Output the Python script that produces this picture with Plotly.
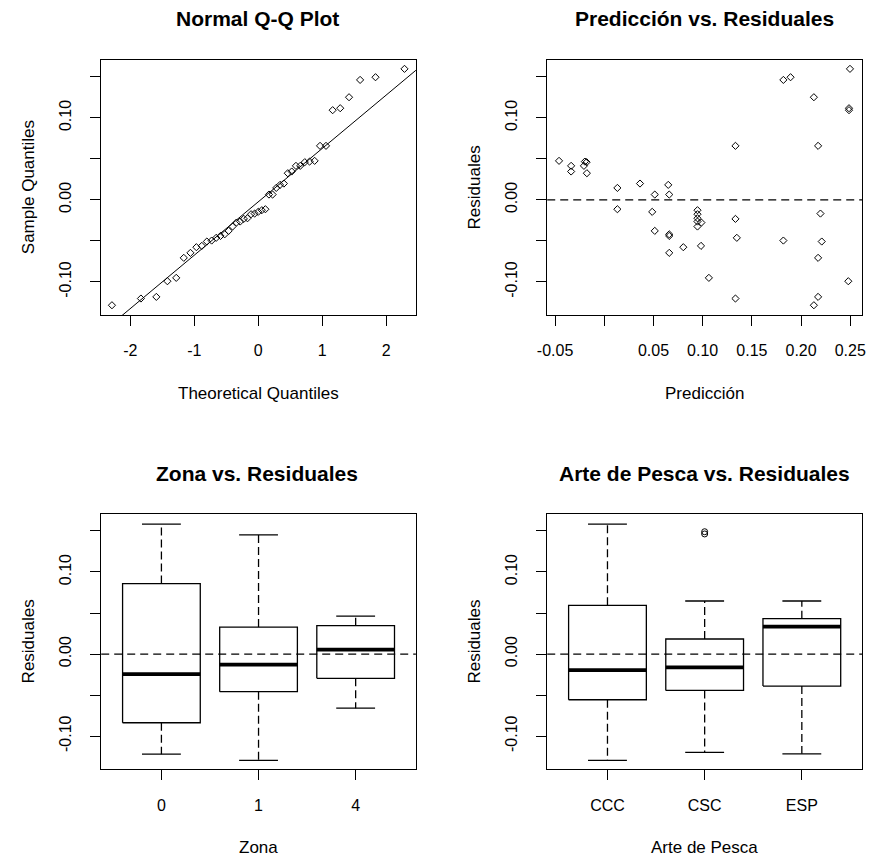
import numpy as np
import plotly.graph_objects as go

# ---------------- data ----------------
PREDICCION = [-0.046, -0.0337, -0.0337, -0.0197, -0.018, -0.0207, -0.0177, 0.0133, 0.0133,
              0.0363, 0.0513, 0.0487, 0.0513, 0.065, 0.066, 0.066, 0.066, 0.066, 0.0803,
              0.0947, 0.0947, 0.0947, 0.0947, 0.0947, 0.0987, 0.0983, 0.1063, 0.1333, 0.1333,
              0.1347, 0.1333, 0.182, 0.1893, 0.182, 0.213, 0.2173, 0.2197, 0.221, 0.2173,
              0.2173, 0.213, 0.2497, 0.2487, 0.2487, 0.248]
RESIDUALES = [0.0476, 0.0415, 0.0346, 0.0467, 0.046, 0.0415, 0.0325, 0.0146, -0.0114,
              0.0199, 0.0065, -0.0146, -0.0378, 0.0183, 0.0065, -0.042, -0.044, -0.0646, -0.0577,
              -0.0126, -0.0175, -0.0224, -0.0264, -0.0325, -0.0277, -0.0561, -0.0951, 0.0659, -0.0232,
              -0.0463, -0.1203, 0.1463, 0.1496, -0.0496, 0.1252, 0.0659, -0.0167, -0.0508, -0.0707,
              -0.1183, -0.1285, 0.1598, 0.1118, 0.1094, -0.0992]
CUANTILES_TEORICOS = [-2.287, -1.834, -1.593, -1.420, -1.282, -1.164, -1.060, -0.967, -0.882,
                      -0.803, -0.728, -0.657, -0.590, -0.524, -0.462, -0.401, -0.341, -0.282,
                      -0.225, -0.168, -0.112, -0.056, 0.000, 0.056, 0.112, 0.168, 0.225, 0.282,
                      0.341, 0.401, 0.462, 0.524, 0.590, 0.657, 0.728, 0.803, 0.882, 0.967,
                      1.060, 1.164, 1.282, 1.420, 1.593, 1.834, 2.287]
Z_QUARTIL_NORMAL = 0.6745

ZONA_CATS = ["0", "1", "4"]
ZONA_LOW = [-0.122, -0.1296, -0.0659]
ZONA_Q1 = [-0.0837, -0.0459, -0.0296]
ZONA_MED = [-0.0244, -0.0130, 0.0053]
ZONA_Q3 = [0.0858, 0.0329, 0.0346]
ZONA_HIGH = [0.1582, 0.1451, 0.0463]

ARTE_CATS = ["CCC", "CSC", "ESP"]
ARTE_LOW = [-0.1296, -0.1199, -0.1215]
ARTE_Q1 = [-0.0557, -0.0443, -0.039]
ARTE_MED = [-0.0195, -0.0162, 0.0334]
ARTE_Q3 = [0.0594, 0.0183, 0.0431]
ARTE_HIGH = [0.1582, 0.0646, 0.0646]
ARTE_OUT_CAT = ["CSC", "CSC"]
ARTE_OUT_VAL = [0.1463, 0.1490]

Y_TICKS = [-0.10, -0.05, 0.00, 0.05, 0.10, 0.15]
Y_TICKTEXT = ["-0.10", "", "0.00", "", "0.10", ""]
QQ_TICKS = [-2, -1, 0, 1, 2]
QQ_TICKTEXT = ["-2", "-1", "0", "1", "2"]
PRED_TICKS = [-0.05, 0.00, 0.05, 0.10, 0.15, 0.20, 0.25]
PRED_TICKTEXT = ["-0.05", "", "0.05", "0.10", "0.15", "0.20", "0.25"]
LINEA_CERO = 0.0

# ---------------- figure ----------------
W, H = 871, 858
FONT = "Liberation Sans, Arial, sans-serif"
fig = go.Figure()

# QQ plot
muestra = sorted(RESIDUALES)
fig.add_trace(go.Scatter(x=CUANTILES_TEORICOS, y=muestra, mode="markers",
                         marker=dict(symbol="diamond-open", size=5.5, color="black",
                                     line=dict(width=1, color="black")),
                         xaxis="x", yaxis="y", showlegend=False))
q1s, q3s = np.quantile(muestra, [0.25, 0.75])
pend = (q3s - q1s) / (2 * Z_QUARTIL_NORMAL)
inter = q1s + Z_QUARTIL_NORMAL * pend
xl = np.array([-3.0, 3.0])
fig.add_trace(go.Scatter(x=xl, y=inter + pend * xl, mode="lines",
                         line=dict(color="black", width=1), xaxis="x", yaxis="y",
                         showlegend=False))

# Predicción vs residuales
fig.add_trace(go.Scatter(x=PREDICCION, y=RESIDUALES, mode="markers",
                         marker=dict(symbol="diamond-open", size=5.5, color="black",
                                     line=dict(width=1, color="black")),
                         xaxis="x2", yaxis="y2", showlegend=False))


def add_boxes(lo, q1, med, q3, hi, xa, ya):
    bx, by, mx, my, wx, wy, cx, cy = [], [], [], [], [], [], [], []
    for i in range(len(med)):
        p = i + 1
        bx += [p - 0.4, p + 0.4, p + 0.4, p - 0.4, p - 0.4, None]
        by += [q1[i], q1[i], q3[i], q3[i], q1[i], None]
        mx += [p - 0.4, p + 0.4, None]
        my += [med[i], med[i], None]
        wx += [p, p, None, p, p, None]
        wy += [q3[i], hi[i], None, q1[i], lo[i], None]
        cx += [p - 0.2, p + 0.2, None, p - 0.2, p + 0.2, None]
        cy += [hi[i], hi[i], None, lo[i], lo[i], None]
    common = dict(xaxis=xa, yaxis=ya, showlegend=False, mode="lines")
    fig.add_trace(go.Scatter(x=wx, y=wy, line=dict(color="black", width=1.3, dash="8px,4px"), **common))
    fig.add_trace(go.Scatter(x=cx, y=cy, line=dict(color="black", width=1.3), **common))
    fig.add_trace(go.Scatter(x=bx, y=by, line=dict(color="black", width=1.3), **common))
    fig.add_trace(go.Scatter(x=mx, y=my, line=dict(color="black", width=3.8), **common))


add_boxes(ZONA_LOW, ZONA_Q1, ZONA_MED, ZONA_Q3, ZONA_HIGH, "x3", "y3")
add_boxes(ARTE_LOW, ARTE_Q1, ARTE_MED, ARTE_Q3, ARTE_HIGH, "x4", "y4")
fig.add_trace(go.Scatter(x=[ARTE_CATS.index(c) + 1 for c in ARTE_OUT_CAT], y=ARTE_OUT_VAL,
                         mode="markers",
                         marker=dict(symbol="circle-open", size=6, color="black",
                                     line=dict(width=1, color="black")),
                         xaxis="x4", yaxis="y4", showlegend=False))

# ---------------- layout ----------------
def px_x(v):
    return v / W


def px_y(v):
    return 1 - v / H


XL = [px_x(92.7), px_x(412.5)]
XR = [px_x(546), px_x(866)]
YT = [px_y(315), px_y(60)]
YB = [px_y(769.3), px_y(514)]
YRANGE = [-0.1404, 0.1706]

base = dict(showline=True, mirror=True, linecolor="black", linewidth=1, ticks="outside",
            ticklen=10, tickwidth=1, tickcolor="black", showgrid=False, zeroline=False,
            tickfont=dict(family=FONT, size=16, color="black"), fixedrange=True)
xbase = dict(base, ticklabelstandoff=11)
ybase = dict(base, tickvals=Y_TICKS, ticktext=Y_TICKTEXT, tickangle=-90, range=YRANGE,
             ticklabelstandoff=13)

fig.update_layout(
    width=W, height=H, margin=dict(l=0, r=0, t=0, b=0),
    paper_bgcolor="white", plot_bgcolor="white",
    xaxis=dict(xbase, domain=XL, anchor="y", range=[-2.455, 2.465], tickvals=QQ_TICKS,
               ticktext=QQ_TICKTEXT),
    yaxis=dict(ybase, domain=YT, anchor="x"),
    xaxis2=dict(xbase, domain=XR, anchor="y2", range=[-0.058, 0.262], tickvals=PRED_TICKS,
                ticktext=PRED_TICKTEXT),
    yaxis2=dict(ybase, domain=YT, anchor="x2"),
    xaxis3=dict(xbase, domain=XL, anchor="y3", range=[0.38, 3.62], tickvals=[1, 2, 3],
                ticktext=ZONA_CATS),
    yaxis3=dict(ybase, domain=YB, anchor="x3"),
    xaxis4=dict(xbase, domain=XR, anchor="y4", range=[0.38, 3.62], tickvals=[1, 2, 3],
                ticktext=ARTE_CATS),
    yaxis4=dict(ybase, domain=YB, anchor="x4"),
)

for xr, ya in [("x2", "y2"), ("x3", "y3"), ("x4", "y4")]:
    fig.add_shape(type="line", xref=f"{xr} domain", yref=ya, x0=0, x1=1, y0=LINEA_CERO,
                  y1=LINEA_CERO, line=dict(color="black", width=1.3, dash="8px,5px"))

ann = []


def text(t, x, y, size, angle=0):
    ann.append(dict(text=t, x=px_x(x), y=px_y(y), xref="paper", yref="paper",
                    showarrow=False, xanchor="center", yanchor="middle", textangle=angle,
                    font=dict(family=FONT, size=size, color="black")))


text("<b>Normal Q-Q Plot</b>", 251.5, 19, 21)
text("<b>Predicción vs. Residuales</b>", 706, 19, 21)
text("<b>Zona vs. Residuales</b>", 251.5, 473, 21)
text("<b>Arte de Pesca vs. Residuales</b>", 706, 473, 21)
text("Theoretical Quantiles", 252.6, 393, 17)
text("Predicción", 706, 393, 17)
text("Zona", 252.6, 847.5, 17)
text("Arte de Pesca", 706, 847.5, 17)
text("Sample Quantiles", 19, 187.5, 17, -90)
text("Residuales", 472.5, 187.5, 17, -90)
text("Residuales", 19, 641.7, 17, -90)
text("Residuales", 472.5, 641.7, 17, -90)
fig.update_layout(annotations=ann)

fig.write_html("out.html")
